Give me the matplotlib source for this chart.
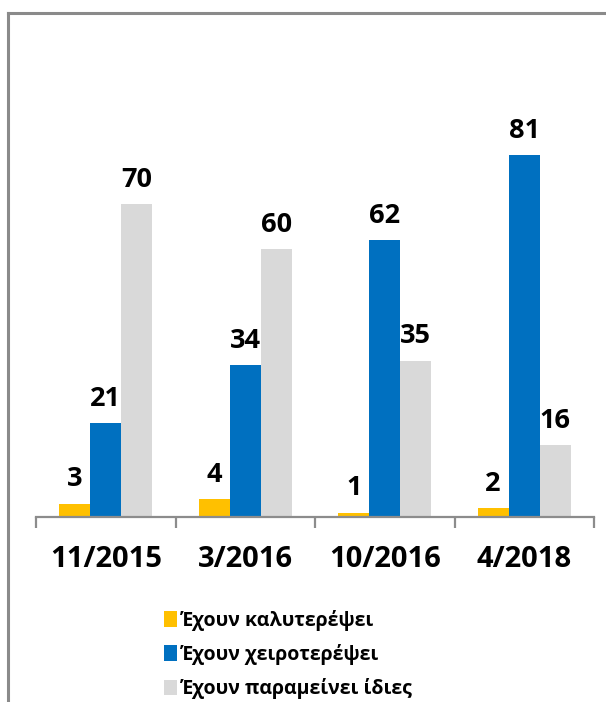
import numpy as np
import matplotlib
matplotlib.use('Agg')
import matplotlib.pyplot as plt
from matplotlib.patches import Patch
from matplotlib.lines import Line2D

periods = ['11/2015', '3/2016', '10/2016', '4/2018']
better = [3, 4, 1, 2]
worse = [21, 34, 62, 81]
same = [70, 60, 35, 16]
series_names = ['Έχουν καλυτερέψει', 'Έχουν χειροτερέψει', 'Έχουν παραμείνει ίδιες']
colors = ['#FFC000', '#0070C0', '#D9D9D9']

W, H = 606, 702
fig = plt.figure(figsize=(W / 100, H / 100), dpi=100)

# axes placed in pixel terms of the reference
ax_left, ax_right, ax_bottom, ax_top = 36, 594, 517, 60
ax = fig.add_axes([ax_left / W, 1 - ax_bottom / H,
                   (ax_right - ax_left) / W, (ax_bottom - ax_top) / H])

x = np.arange(len(periods))
width = 0.223
for i, (vals, col) in enumerate(zip([better, worse, same], colors)):
    pos = x + (i - 1) * width
    ax.bar(pos, vals, width=width, color=col, zorder=2)
    for p, v in zip(pos, vals):
        ax.annotate(str(v), (p, v), xytext=(0, 8), textcoords='offset points',
                    ha='center', va='bottom', fontsize=19.5, fontweight='bold',
                    family=['Open Sans', 'DejaVu Sans'])

ax.set_xlim(-0.5, len(periods) - 0.5)
ax.set_ylim(0, (ax_bottom - ax_top) / (362 / 81))

for s in ['left', 'right', 'top']:
    ax.spines[s].set_visible(False)
ax.spines['bottom'].set_color('#8c8c8c')
ax.spines['bottom'].set_linewidth(1.6)
ax.set_yticks([])

ax.set_xticks(np.arange(-0.5, len(periods)), minor=False)
ax.set_xticklabels([''] * (len(periods) + 1))
ax.tick_params(axis='x', which='major', length=8, width=1.6, color='#8c8c8c', direction='out')
ax.set_xticks(x, minor=True)
ax.set_xticklabels(periods, minor=True, fontsize=21, fontweight='bold',
                   family=['Open Sans', 'DejaVu Sans'])
ax.tick_params(axis='x', which='minor', length=0, pad=20)

handles = [Patch(facecolor=c, edgecolor='none') for c in colors]
fig.legend(handles, series_names, loc='upper left',
           bbox_to_anchor=(154 / W, 1 - 600 / H), frameon=False,
           prop={'family': 'Open Sans', 'weight': 'bold', 'size': 14},
           handlelength=0.7, handleheight=0.85, handletextpad=0.2,
           labelspacing=0.68, borderpad=0)

# outer frame (left and top edges only visible)
border = '#8a8a8a'
fig.add_artist(Line2D([8 / W, 8 / W], [0, 1 - 13 / H], color=border, lw=2.2))
fig.add_artist(Line2D([8 / W, 1], [1 - 13 / H, 1 - 13 / H], color=border, lw=2.2))

fig.savefig('out.png', dpi=100)
